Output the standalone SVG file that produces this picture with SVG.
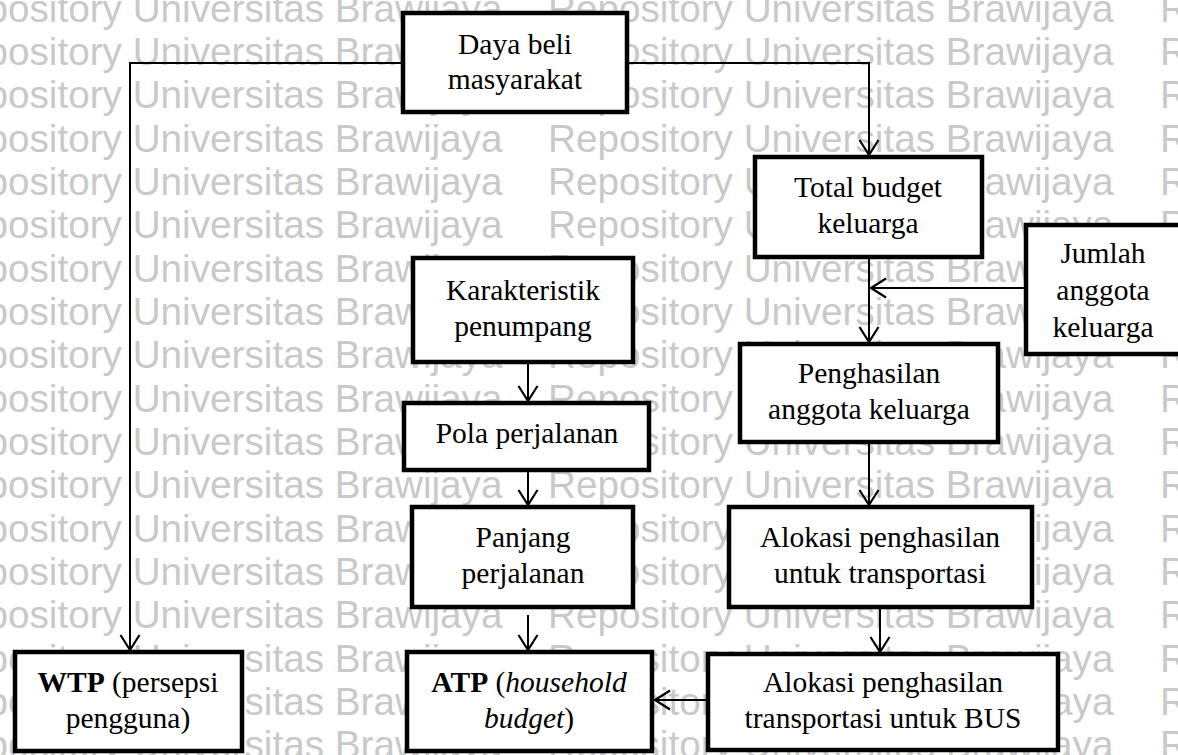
<svg xmlns="http://www.w3.org/2000/svg" xmlns:xlink="http://www.w3.org/1999/xlink" width="1178" height="755" viewBox="0 0 1178 755">
  <style>
    .wm { font-family: "Liberation Sans", Arial, sans-serif; font-size: 38.7px; fill: #c9c9c9; }
    .box { fill: #ffffff; stroke: #000000; stroke-width: 4.5; }
    .lbl { font-family: "Liberation Serif", "Times New Roman", serif; font-size: 29.5px; fill: #000000; text-anchor: middle; }
    .conn { fill: none; stroke: #000000; stroke-width: 2; }
  </style>
  <defs>
    <marker id="arr" viewBox="0 0 20 22" refX="17" refY="11" markerWidth="20" markerHeight="22" markerUnits="userSpaceOnUse" orient="auto">
      <path d="M2,1.5 L17,11 L2,20.5" fill="none" stroke="#000000" stroke-width="2.2"/>
    </marker>
    <text id="wm" class="wm"><tspan x="-63">Repository Universitas Brawijaya</tspan><tspan x="548">Repository Universitas Brawijaya</tspan><tspan x="1160">Repository Universitas Brawijaya</tspan></text>
  </defs>
  <rect x="0" y="0" width="1178" height="755" fill="#ffffff"/>
  <g id="watermark">
    <use href="#wm" xlink:href="#wm" y="21.7"/>
    <use href="#wm" xlink:href="#wm" y="65"/>
    <use href="#wm" xlink:href="#wm" y="108.3"/>
    <use href="#wm" xlink:href="#wm" y="151.7"/>
    <use href="#wm" xlink:href="#wm" y="195"/>
    <use href="#wm" xlink:href="#wm" y="238.3"/>
    <use href="#wm" xlink:href="#wm" y="281.7"/>
    <use href="#wm" xlink:href="#wm" y="325"/>
    <use href="#wm" xlink:href="#wm" y="368.3"/>
    <use href="#wm" xlink:href="#wm" y="411.7"/>
    <use href="#wm" xlink:href="#wm" y="455"/>
    <use href="#wm" xlink:href="#wm" y="498.3"/>
    <use href="#wm" xlink:href="#wm" y="541.7"/>
    <use href="#wm" xlink:href="#wm" y="585"/>
    <use href="#wm" xlink:href="#wm" y="628.3"/>
    <use href="#wm" xlink:href="#wm" y="671.7"/>
    <use href="#wm" xlink:href="#wm" y="715"/>
    <use href="#wm" xlink:href="#wm" y="758.3"/>
  </g>
  <g id="connectors">
    <path class="conn" d="M403,63 H130 V650" marker-end="url(#arr)"/>
    <path class="conn" d="M627,63 H869 V155" marker-end="url(#arr)"/>
    <path class="conn" d="M869,257 V342" marker-end="url(#arr)"/>
    <path class="conn" d="M1026,288 H871" marker-end="url(#arr)"/>
    <path class="conn" d="M528,362 V401" marker-end="url(#arr)"/>
    <path class="conn" d="M528,470 V505" marker-end="url(#arr)"/>
    <path class="conn" d="M528,615 V650" marker-end="url(#arr)"/>
    <path class="conn" d="M869,442 V505" marker-end="url(#arr)"/>
    <path class="conn" d="M880,607 V652" marker-end="url(#arr)"/>
    <path class="conn" d="M708,700 H655" marker-end="url(#arr)"/>
  </g>
  <g id="node-daya-beli">
    <rect class="box" x="403" y="13" width="224" height="99"/>
    <text class="lbl" x="515" y="54">Daya beli</text>
    <text class="lbl" x="515" y="89">masyarakat</text>
  </g>
  <g id="node-total-budget">
    <rect class="box" x="755" y="157" width="227" height="100"/>
    <text class="lbl" x="868" y="197">Total budget</text>
    <text class="lbl" x="868" y="233">keluarga</text>
  </g>
  <g id="node-jumlah-anggota">
    <rect class="box" x="1026" y="225" width="156" height="129"/>
    <text class="lbl" x="1103" y="263">Jumlah</text>
    <text class="lbl" x="1103" y="300">anggota</text>
    <text class="lbl" x="1103" y="337">keluarga</text>
  </g>
  <g id="node-karakteristik">
    <rect class="box" x="413" y="258" width="220" height="104"/>
    <text class="lbl" x="523" y="300">Karakteristik</text>
    <text class="lbl" x="523" y="336">penumpang</text>
  </g>
  <g id="node-penghasilan">
    <rect class="box" x="740" y="344" width="258" height="98"/>
    <text class="lbl" x="869" y="383">Penghasilan</text>
    <text class="lbl" x="869" y="419">anggota keluarga</text>
  </g>
  <g id="node-pola">
    <rect class="box" x="404" y="403" width="245" height="67"/>
    <text class="lbl" x="527" y="443">Pola perjalanan</text>
  </g>
  <g id="node-panjang">
    <rect class="box" x="412" y="507" width="221" height="100"/>
    <text class="lbl" x="523" y="547">Panjang</text>
    <text class="lbl" x="523" y="583">perjalanan</text>
  </g>
  <g id="node-alokasi-transportasi">
    <rect class="box" x="729" y="507" width="303" height="100"/>
    <text class="lbl" x="880" y="547">Alokasi penghasilan</text>
    <text class="lbl" x="880" y="583">untuk transportasi</text>
  </g>
  <g id="node-wtp">
    <rect class="box" x="15" y="652" width="227" height="99"/>
    <text class="lbl" x="128" y="692"><tspan font-weight="bold">WTP</tspan> (persepsi</text>
    <text class="lbl" x="128" y="728">pengguna)</text>
  </g>
  <g id="node-atp">
    <rect class="box" x="407" y="652" width="245" height="99"/>
    <text class="lbl" x="529" y="692"><tspan font-weight="bold">ATP</tspan> (<tspan font-style="italic">household</tspan></text>
    <text class="lbl" x="529" y="728"><tspan font-style="italic">budget</tspan>)</text>
  </g>
  <g id="node-alokasi-bus">
    <rect class="box" x="708" y="654" width="350" height="96"/>
    <text class="lbl" x="883" y="692">Alokasi penghasilan</text>
    <text class="lbl" x="883" y="728">transportasi untuk BUS</text>
  </g>
</svg>
